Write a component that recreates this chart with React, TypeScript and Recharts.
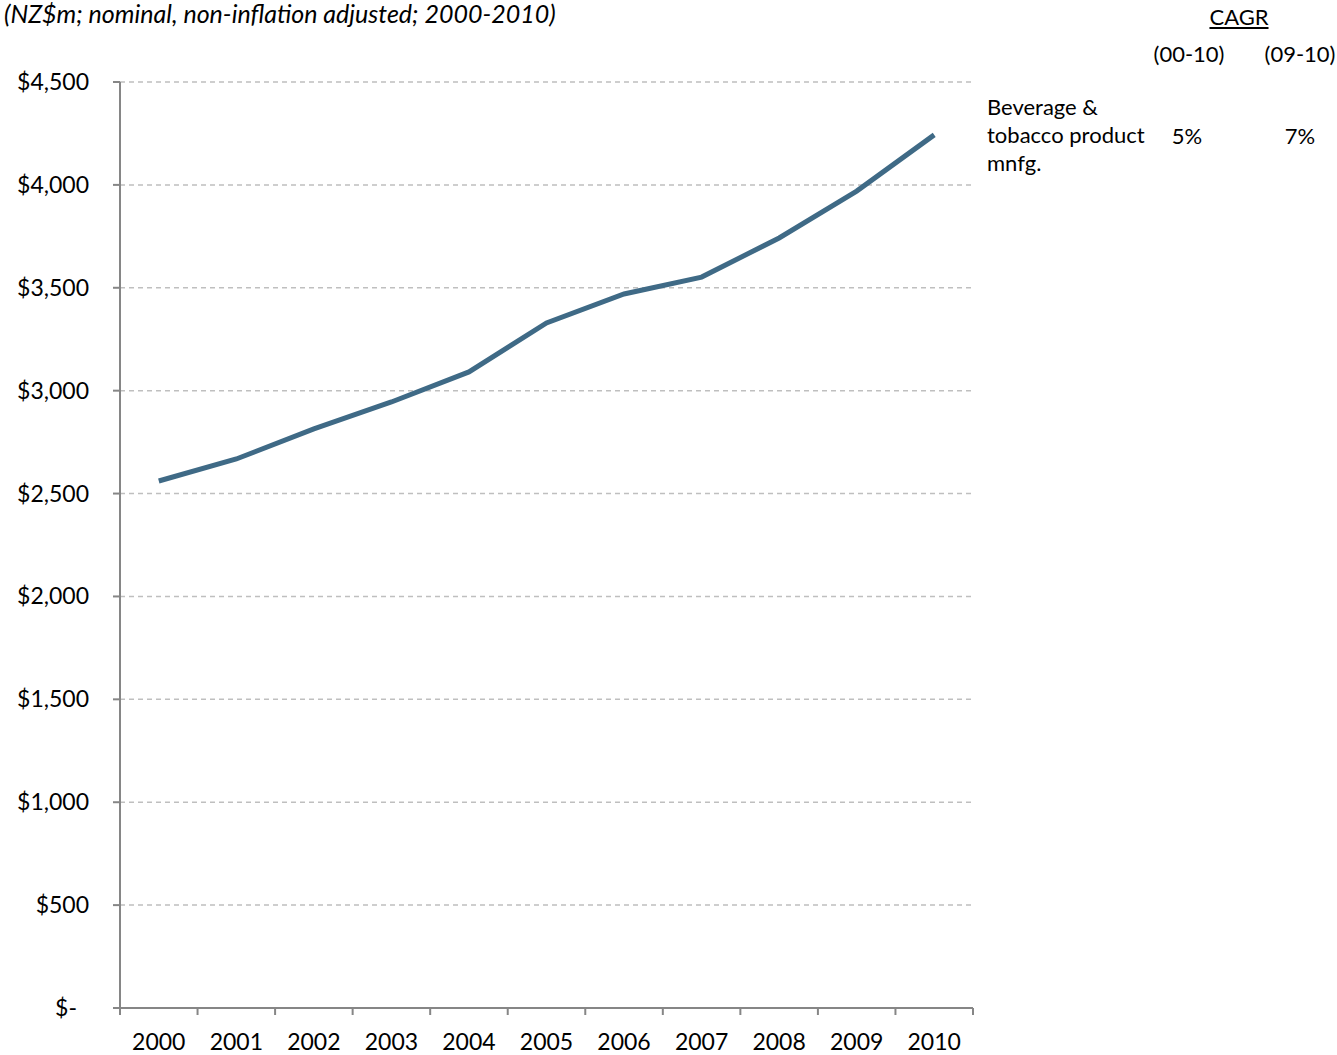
import { LineChart, Line, XAxis, YAxis, CartesianGrid } from 'recharts';

// values (NZ$m)
const years = ['2000', '2001', '2002', '2003', '2004', '2005', '2006', '2007', '2008', '2009', '2010'];
const revenue = [2561, 2668, 2814, 2945, 3091, 3329, 3470, 3552, 3742, 3970, 4243];
const yTicks = [0, 500, 1000, 1500, 2000, 2500, 3000, 3500, 4000, 4500];
const xBoundaries = [-0.5, 0.5, 1.5, 2.5, 3.5, 4.5, 5.5, 6.5, 7.5, 8.5, 9.5, 10.5];

const seriesName = 'Beverage & tobacco product mnfg.';
const cagrLabels = ['(00-10)', '(09-10)'];
const cagrValues = ['5%', '7%'];

const data = years.map((y, i) => ({ idx: i, year: y, value: revenue[i] }));

const FONT = 'Lato, "Noto Sans", sans-serif';
const AXIS = '#868686';
const LINE = '#3f6a86';
const PLOT_W = 853;
const HALF_BAND = PLOT_W / years.length / 2;

function YearTick(props: any) {
    const { x, y, payload } = props;
    const i = Math.round(payload.value + 0.5);
    if (i >= years.length) return null;
    return (
        <text x={x + HALF_BAND} y={y + 33} textAnchor="middle" fontSize={23} fontFamily={FONT} fill="#000">
            {years[i]}
        </text>
    );
}

// excel style accounting format: the zero sits a bit left of the others
function MoneyTick(props: any) {
    const { x, y, payload } = props;
    const v = payload.value;
    const label = v === 0 ? '$-' : '$' + v.toLocaleString('en-US');
    return (
        <text x={v === 0 ? x - 12 : x} y={y} dy={8} textAnchor="end" fontSize={23} fontFamily={FONT} fill="#000">
            {label}
        </text>
    );
}

const txt = (extra: React.CSSProperties): React.CSSProperties => ({
    position: 'absolute',
    fontFamily: FONT,
    fontSize: 22,
    color: '#000',
    lineHeight: '28px',
    whiteSpace: 'nowrap',
    ...extra,
});

export default function App() {
    return (
        <div style={{ position: 'absolute', left: 0, top: 0, width: 1337, height: 1055, background: '#fff' }}>
            <LineChart
                width={1337}
                height={1055}
                data={data}
                margin={{ top: 82, right: 364, bottom: 0, left: 0 }}
            >
                <CartesianGrid vertical={false} stroke="#bfbfbf" strokeWidth={1.5} strokeDasharray="5 4" />
                <XAxis
                    dataKey="idx"
                    type="number"
                    domain={[-0.5, 10.5]}
                    ticks={xBoundaries}
                    interval={0}
                    height={47}
                    tickSize={7}
                    stroke={AXIS}
                    strokeWidth={2}
                    tickLine={{ stroke: AXIS, strokeWidth: 2 }}
                    tick={<YearTick />}
                />
                <YAxis
                    type="number"
                    domain={[0, 4500]}
                    ticks={yTicks}
                    interval={0}
                    width={120}
                    tickSize={7}
                    tickMargin={24}
                    stroke={AXIS}
                    strokeWidth={2}
                    tickLine={{ stroke: AXIS, strokeWidth: 2 }}
                    tick={<MoneyTick />}
                />
                <Line
                    type="linear"
                    dataKey="value"
                    name={seriesName}
                    stroke={LINE}
                    strokeWidth={5}
                    dot={false}
                    isAnimationActive={false}
                />
            </LineChart>

            <div style={txt({ left: 4, top: 0, fontSize: 25, fontStyle: 'italic', lineHeight: '26px' })}>
                (NZ$m; nominal, non-inflation adjusted; 2000-2010)
            </div>
            <div style={txt({ left: 1189, top: 3, width: 100, textAlign: 'center', textDecoration: 'underline' })}>CAGR</div>
            <div style={txt({ left: 1139, top: 40, width: 100, textAlign: 'center' })}>{cagrLabels[0]}</div>
            <div style={txt({ left: 1250, top: 40, width: 100, textAlign: 'center' })}>{cagrLabels[1]}</div>
            <div style={txt({ left: 987, top: 93, whiteSpace: 'normal', width: 180 })}>
                Beverage &amp;<br />tobacco product<br />mnfg.
            </div>
            <div style={txt({ left: 1137, top: 122, width: 100, textAlign: 'center' })}>{cagrValues[0]}</div>
            <div style={txt({ left: 1250, top: 122, width: 100, textAlign: 'center' })}>{cagrValues[1]}</div>
        </div>
    );
}
